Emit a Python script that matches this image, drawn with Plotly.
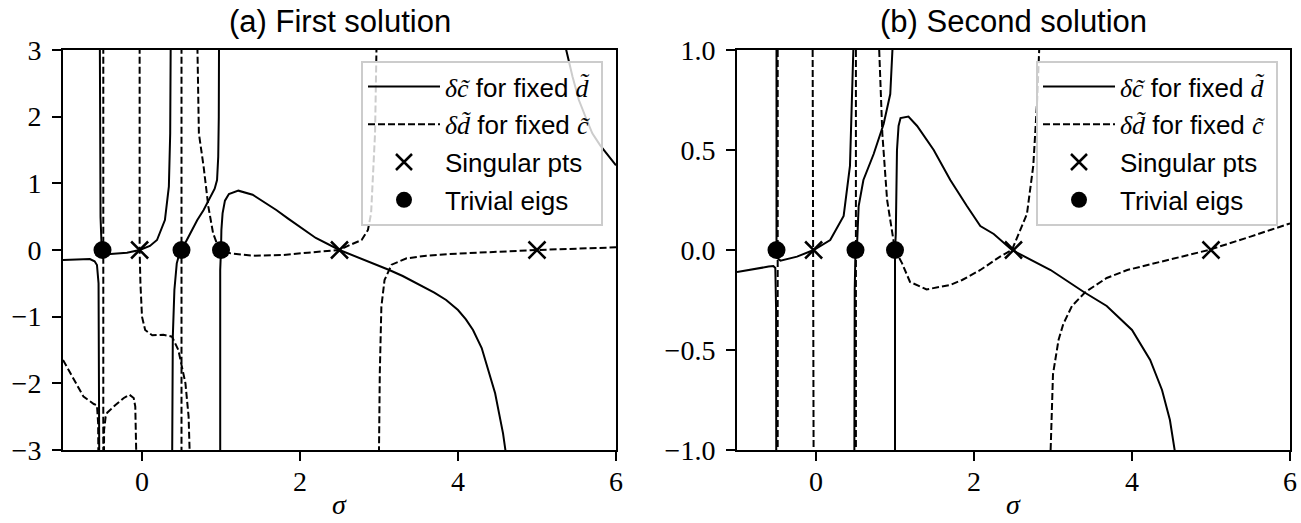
import plotly.graph_objects as go

# ---------------- data ----------------
# Panel (a): first solution
a_dc_s1 = [-1.0, -0.8, -0.66, -0.6, -0.57, -0.55, -0.54]
a_dc_v1 = [-0.15, -0.14, -0.135, -0.17, -0.225, -0.5, -3.5]
a_dc_s2 = [-0.535, -0.525, -0.51, -0.48, -0.4, -0.19, -0.03, 0.1, 0.19, 0.29, 0.34, 0.357, 0.365]
a_dc_v2 = [3.5, 0.5, 0.0, -0.06, -0.06, -0.04, 0.0, 0.06, 0.15, 0.45, 0.95, 1.75, 3.5]
a_dc_s3 = [0.38, 0.385, 0.39, 0.41, 0.44, 0.47, 0.5, 0.55, 0.62, 0.7, 0.78, 0.85, 0.92, 0.95, 0.965, 0.972, 0.976]
a_dc_v3 = [-3.5, -2.0, -1.3, -0.6, -0.2, -0.07, 0.0, 0.12, 0.28, 0.45, 0.6, 0.75, 0.92, 1.05, 1.4, 2.0, 3.5]
a_dc_s4 = [0.99, 0.99, 1.0, 1.005, 1.02, 1.05, 1.1, 1.22, 1.4, 1.55, 1.7, 1.85, 2.0, 2.2, 2.5,
           2.8, 3.13, 3.3, 3.5, 3.7, 3.85, 4.0, 4.1, 4.19, 4.3, 4.4, 4.47, 4.52, 4.57, 4.6, 4.63]
a_dc_v4 = [-3.5, -0.3, 0.0, 0.3, 0.55, 0.74, 0.84, 0.89, 0.83, 0.72, 0.6, 0.47, 0.35, 0.18, 0.0,
           -0.14, -0.3, -0.39, -0.51, -0.64, -0.75, -0.9, -1.04, -1.2, -1.47, -1.85, -2.15, -2.45, -2.75, -3.0, -3.5]
a_dc_s5 = [5.33, 5.37, 5.45, 5.53, 5.62, 5.7, 5.8, 5.9, 6.0]
a_dc_v5 = [3.5, 3.0, 2.6, 2.25, 1.98, 1.75, 1.57, 1.42, 1.27]

a_dd_s1 = [-1.0, -0.86, -0.74, -0.61, -0.57, -0.555, -0.55]
a_dd_v1 = [-1.65, -1.95, -2.2, -2.31, -2.33, -2.6, -3.5]
a_dd_s2 = [-0.49, -0.49]
a_dd_v2 = [3.5, -3.5]
a_dd_s3 = [-0.482, -0.48, -0.46, -0.44, -0.34, -0.23, -0.16, -0.105, -0.085, -0.072, -0.065]
a_dd_v3 = [-3.5, -2.7, -2.5, -2.44, -2.33, -2.22, -2.17, -2.22, -2.35, -2.85, -3.5]
a_dd_s4 = [-0.03, -0.03, -0.02, -0.005, 0.0, 0.04, 0.13, 0.27, 0.38, 0.46, 0.55, 0.59, 0.61, 0.615]
a_dd_v4 = [3.5, 0.0, -0.5, -0.8, -1.0, -1.2, -1.28, -1.27, -1.3, -1.5, -2.0, -2.5, -3.0, -3.5]
a_dd_s5 = [0.5, 0.5]
a_dd_v5 = [3.5, -3.5]
a_dd_s6 = [0.695, 0.70, 0.72, 0.78, 0.84, 0.9, 0.97, 1.0, 1.12, 1.41, 1.79, 2.1, 2.3, 2.5,
           2.63, 2.78, 2.86, 2.9, 2.95, 2.975]
a_dd_v6 = [3.5, 3.0, 1.75, 1.25, 0.65, 0.25, 0.03, 0.0, -0.05, -0.085, -0.075, -0.04, -0.02, 0.0,
           0.075, 0.15, 0.3, 0.55, 1.75, 3.5]
a_dd_s7 = [3.0, 3.0, 3.01, 3.03, 3.07, 3.16, 3.35, 3.6, 3.89, 4.4, 5.0, 5.5, 6.0]
a_dd_v7 = [-3.5, -3.0, -1.85, -0.85, -0.45, -0.22, -0.125, -0.085, -0.06, -0.03, 0.0, 0.02, 0.04]

# Panel (b): second solution
b_dc_s1 = [-1.0, -0.8, -0.6, -0.54, -0.515, -0.505, -0.503]
b_dc_v1 = [-0.11, -0.095, -0.083, -0.08, -0.09, -0.3, -1.1]
b_dc_s2 = [-0.5, -0.5, -0.49, -0.45, -0.24, -0.03, 0.18, 0.35, 0.43, 0.46, 0.476, 0.48]
b_dc_v2 = [1.1, 0.05, -0.04, -0.053, -0.033, 0.0, 0.05, 0.17, 0.42, 0.75, 1.0, 1.1]
b_dc_s3 = [0.485, 0.487, 0.49, 0.5, 0.52, 0.54, 0.6, 0.73, 0.856, 0.94, 0.975, 0.98]
b_dc_v3 = [-1.1, -0.5, -0.2, 0.0, 0.03, 0.22, 0.35, 0.48, 0.63, 0.78, 1.0, 1.1]
b_dc_s4 = [1.0, 1.0, 1.01, 1.025, 1.045, 1.07, 1.17, 1.28, 1.49, 1.7, 1.91, 2.08, 2.25, 2.48,
           2.97, 3.39, 3.68, 4.0, 4.23, 4.38, 4.48, 4.54, 4.56]
b_dc_v4 = [-1.1, 0.0, 0.08, 0.5, 0.62, 0.66, 0.667, 0.62, 0.5, 0.35, 0.22, 0.12, 0.08, 0.0,
           -0.1, -0.21, -0.28, -0.4, -0.55, -0.7, -0.85, -1.0, -1.1]

b_dd_s1 = [-0.485, -0.485]
b_dd_v1 = [1.1, -1.1]
b_dd_s2 = [-0.043, -0.03]
b_dd_v2 = [1.1, -1.1]
b_dd_s3 = [0.505, 0.505]
b_dd_v3 = [1.1, -1.1]
b_dd_s4 = [0.795, 0.80, 0.84, 0.9, 0.98, 1.0, 1.09, 1.19, 1.4, 1.7, 1.85, 2.08, 2.33, 2.48,
           2.67, 2.75, 2.8, 2.83, 2.835]
b_dd_v4 = [1.1, 1.0, 0.58, 0.25, 0.05, 0.0, -0.067, -0.16, -0.197, -0.175, -0.15, -0.1, -0.033, 0.0,
           0.18, 0.42, 0.75, 1.0, 1.1]
b_dd_s5 = [2.965, 2.97, 3.0, 3.07, 3.13, 3.24, 3.41, 3.68, 3.94, 4.36, 4.97, 5.5, 6.0]
b_dd_v5 = [-1.1, -1.0, -0.62, -0.45, -0.37, -0.28, -0.21, -0.14, -0.1, -0.058, 0.0, 0.067, 0.133]

singular_sigma = [-0.03, 2.5, 5.0]
singular_value = [0.0, 0.0, 0.0]
trivial_sigma = [-0.5, 0.5, 1.0]
trivial_value = [0.0, 0.0, 0.0]

x_ticks = [0, 2, 4, 6]
a_y_ticks = [-3, -2, -1, 0, 1, 2, 3]
b_y_ticks = [-1.0, -0.5, 0.0, 0.5, 1.0]

titles = ["(a) First solution", "(b) Second solution"]
SERIF = "Liberation Serif"
SANS = "Liberation Sans"
PAD = "\u00a0"
name_c = (f"<span style='font-family:{SERIF}'><i>δc\u0303</i></span> for fixed "
          f"<span style='font-family:{SERIF}'><i>d\u0303</i></span>{PAD}")
name_d = (f"<span style='font-family:{SERIF}'><i>δd\u0303</i></span> for fixed "
          f"<span style='font-family:{SERIF}'><i>c\u0303</i></span>{PAD}")
name_s = "Singular pts" + PAD
name_t = "Trivial eigs" + PAD


def join(branches):
    xs, ys = [], []
    for s, v in branches:
        if xs:
            xs.append(None)
            ys.append(None)
        xs.extend(s)
        ys.extend(v)
    return xs, ys


panels = [
    dict(c=[(a_dc_s1, a_dc_v1), (a_dc_s2, a_dc_v2), (a_dc_s3, a_dc_v3), (a_dc_s4, a_dc_v4), (a_dc_s5, a_dc_v5)],
         d=[(a_dd_s1, a_dd_v1), (a_dd_s2, a_dd_v2), (a_dd_s3, a_dd_v3), (a_dd_s4, a_dd_v4),
            (a_dd_s5, a_dd_v5), (a_dd_s6, a_dd_v6), (a_dd_s7, a_dd_v7)],
         xa="x", ya="y", legend="legend"),
    dict(c=[(b_dc_s1, b_dc_v1), (b_dc_s2, b_dc_v2), (b_dc_s3, b_dc_v3), (b_dc_s4, b_dc_v4)],
         d=[(b_dd_s1, b_dd_v1), (b_dd_s2, b_dd_v2), (b_dd_s3, b_dd_v3), (b_dd_s4, b_dd_v4), (b_dd_s5, b_dd_v5)],
         xa="x2", ya="y2", legend="legend2"),
]

fig = go.Figure()
LW = 2
for i, p in enumerate(panels):
    xs, ys = join(p["c"])
    fig.add_trace(go.Scatter(x=xs, y=ys, mode="lines", name=name_c, xaxis=p["xa"], yaxis=p["ya"],
                             legend=p["legend"], legendgroup=f"c{i}", line=dict(color="black", width=LW)))
    xs, ys = join(p["d"])
    fig.add_trace(go.Scatter(x=xs, y=ys, mode="lines", name=name_d, xaxis=p["xa"], yaxis=p["ya"],
                             legend=p["legend"], legendgroup=f"d{i}",
                             line=dict(color="black", width=LW, dash="7px,3px")))
    fig.add_trace(go.Scatter(x=singular_sigma, y=singular_value, mode="markers", name=name_s,
                             xaxis=p["xa"], yaxis=p["ya"], legend=p["legend"], legendgroup=f"s{i}",
                             marker=dict(symbol="x-thin", size=17, color="black",
                                         line=dict(color="black", width=2.5))))
    fig.add_trace(go.Scatter(x=trivial_sigma, y=trivial_value, mode="markers", name=name_t,
                             xaxis=p["xa"], yaxis=p["ya"], legend=p["legend"], legendgroup=f"t{i}",
                             marker=dict(symbol="circle", size=18, color="black")))

W, H = 1301, 523
top_px, bot_px = 50, 450
ydom = [(H - bot_px) / H, (H - top_px) / H]
xdoms = [[63 / W, 616 / W], [737 / W, 1290 / W]]

axis_common = dict(showline=True, linecolor="black", linewidth=2, mirror=True, ticks="outside",
                   ticklen=9, tickwidth=2, tickcolor="black", showgrid=False, zeroline=False,
                   automargin=False, tickfont=dict(family=SERIF, size=28, color="black"))

legend_common = dict(bgcolor="rgba(255,255,255,0.8)", bordercolor="#cccccc", borderwidth=2,
                     font=dict(family=SANS, size=26, color="black"), itemwidth=72,
                     tracegroupgap=1, yanchor="top", xanchor="right", y=(H - 61) / H)

fig.update_layout(
    width=W, height=H, margin=dict(l=0, r=0, t=0, b=0, pad=0, autoexpand=False),
    paper_bgcolor="white", plot_bgcolor="white",
    xaxis=dict(domain=xdoms[0], range=[-1, 6], tickvals=x_ticks, anchor="y", ticklabelstandoff=-4, **axis_common),
    yaxis=dict(domain=ydom, range=[-3, 3], tickvals=a_y_ticks, anchor="x", ticklabelstandoff=5, **axis_common),
    xaxis2=dict(domain=xdoms[1], range=[-1, 6], tickvals=x_ticks, anchor="y2", ticklabelstandoff=-4, **axis_common),
    yaxis2=dict(domain=ydom, range=[-1, 1], tickvals=b_y_ticks, tickformat=".1f", anchor="x2",
                ticklabelstandoff=5, **axis_common),
    legend=dict(x=603 / W, **legend_common),
    legend2=dict(x=1278 / W, **legend_common),
    showlegend=True,
)

for i, t in enumerate(titles):
    cx = (xdoms[i][0] + xdoms[i][1]) / 2
    fig.add_annotation(text=t, x=cx, y=(H - 22) / H, xref="paper", yref="paper", showarrow=False,
                       xanchor="center", yanchor="middle", font=dict(family=SANS, size=31, color="black"))
    fig.add_annotation(text="<i>σ</i>", x=cx, y=(H - 504) / H, xref="paper", yref="paper", showarrow=False,
                       xanchor="center", yanchor="middle", font=dict(family=SERIF, size=28, color="black"))

fig.write_html("out.html")
